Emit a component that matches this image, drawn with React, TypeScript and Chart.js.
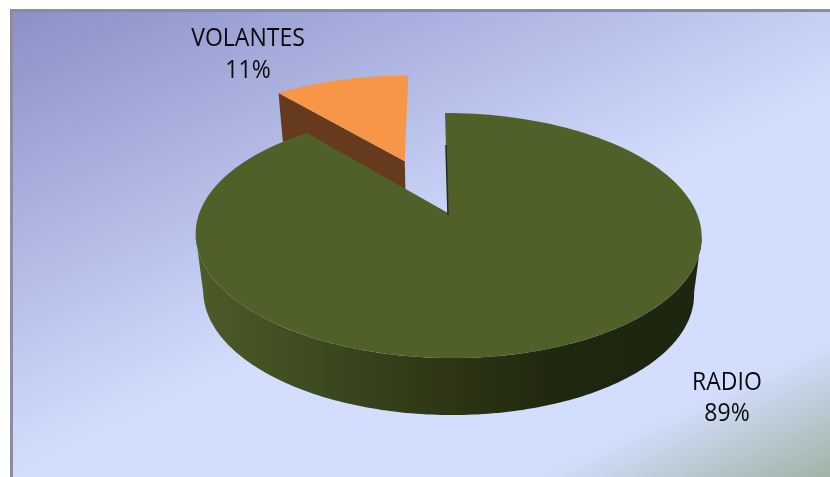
import React, { useEffect, useRef } from "react";
import { Chart, registerables } from "chart.js";

Chart.register(...registerables);

const categories = ["RADIO", "VOLANTES"];
const shares = [89, 11];
const sliceColors = ["#4f6128", "#f79646"];

const CX = 448;
const CY = 213;
const RX = 248.7;
const RY = 118.4;
const K = 0.1837;
const SHEAR = 0.03;
const EXPLODE = [0, 0.51];

type Pt = { x: number; y: number };

function project(u: number, v: number): Pt {
  const d = 1 - K * v;
  const yy = (RY * v) / d;
  return { x: CX + (RX * u) / d + SHEAR * yy, y: CY + yy };
}

function lower(p: Pt, depth: number, scale: number): Pt {
  return { x: 449 + (p.x - 449) * scale, y: p.y + depth };
}

function rim(startA: number, endA: number, dx: number, dy: number): Pt[] {
  const out: Pt[] = [];
  const n = 160;
  for (let i = 0; i <= n; i++) {
    const a = startA + ((endA - startA) * i) / n + Math.PI / 2;
    out.push(project(Math.sin(a) + dx, -Math.cos(a) + dy));
  }
  return out;
}

function fillPoly(ctx: CanvasRenderingContext2D, pts: Pt[], style: string | CanvasGradient) {
  ctx.beginPath();
  pts.forEach((p, i) => (i ? ctx.lineTo(p.x, p.y) : ctx.moveTo(p.x, p.y)));
  ctx.closePath();
  ctx.fillStyle = style;
  ctx.fill();
}

const scene = {
  id: "scene",
  beforeDraw(chart: any) {
    const ctx: CanvasRenderingContext2D = chart.ctx;
    ctx.save();
    ctx.fillStyle = "#ffffff";
    ctx.fillRect(0, 0, 830, 477);
    const g = ctx.createLinearGradient(10, 10, 333, 712);
    g.addColorStop(0, "#8b8fc6");
    g.addColorStop(0.55, "#d3defe");
    g.addColorStop(0.83, "#d3defe");
    g.addColorStop(1, "#9db2a2");
    ctx.fillStyle = g;
    ctx.fillRect(10, 9, 820, 468);
    ctx.fillStyle = "#8c8c9e";
    ctx.fillRect(10, 9, 820, 3);
    ctx.fillRect(10, 9, 3, 468);
    ctx.restore();
  },
  beforeDatasetsDraw(chart: any) {
    const ctx: CanvasRenderingContext2D = chart.ctx;
    const arcs = chart.getDatasetMeta(0).data;
    const main = arcs[0];
    const other = arcs[1];
    ctx.save();

    // exploded slice: cut face, then top
    const mid = (other.startAngle + other.endAngle) / 2 + Math.PI / 2 - 0.02;
    const dx = Math.sin(mid) * EXPLODE[1];
    const dy = -Math.cos(mid) * EXPLODE[1];
    const oRim = rim(other.startAngle, other.endAngle, dx, dy);
    const oApex = project(dx, dy);
    fillPoly(
      ctx,
      [oRim[0], oApex, lower(oApex, 48, 0.975), lower(oRim[0], 48, 0.975)],
      "#663a1c"
    );
    fillPoly(ctx, [oApex, ...oRim], sliceColors[1]);

    // large slice: wall, between the two widest points of the rim
    const wall = ctx.createLinearGradient(196, 0, 702, 0);
    wall.addColorStop(0, "#4c5c28");
    wall.addColorStop(0.48, "#2f3716");
    wall.addColorStop(0.72, "#20270f");
    wall.addColorStop(1, "#1e2510");
    const mRim = rim(main.startAngle, main.endAngle, 0, 0);
    const widest = Math.acos(-K);
    const front = rim(
      main.startAngle + widest,
      main.startAngle + 2 * Math.PI - widest,
      0,
      0
    );
    const bottom = front.map((p) => lower(p, 57, 0.97)).reverse();
    fillPoly(ctx, [...front, ...bottom], wall);

    const apex = project(0, 0);
    fillPoly(ctx, [apex, ...mRim], sliceColors[0]);

    // thin dark cut face along the vertical edge
    const t = mRim[0];
    ctx.strokeStyle = "#262e12";
    ctx.lineWidth = 1.5;
    ctx.beginPath();
    ctx.moveTo(t.x + (apex.x - t.x) * 0.32, t.y + (apex.y - t.y) * 0.32);
    ctx.lineTo(apex.x, apex.y + 2);
    ctx.stroke();

    ctx.restore();
    return false;
  },
  afterDraw(chart: any) {
    const ctx: CanvasRenderingContext2D = chart.ctx;
    const total = shares.reduce((s, v) => s + v, 0);
    const spots = [
      { x: 727, y: [390, 421] },
      { x: 248, y: [45.5, 78] },
    ];
    ctx.save();
    ctx.fillStyle = "#0a0a0a";
    ctx.textAlign = "center";
    ctx.textBaseline = "alphabetic";
    ctx.font = '26px "Open Sans"';
    const squeeze = 0.885;
    categories.forEach((c, i) => {
      const lines = [c, `${Math.round((shares[i] / total) * 100)}%`];
      lines.forEach((text, j) => {
        ctx.save();
        ctx.translate(spots[i].x, spots[i].y[j]);
        ctx.scale(squeeze, 1);
        ctx.fillText(text, 0, 0);
        ctx.restore();
      });
    });
    ctx.restore();
  },
};

export default function App() {
  const ref = useRef<HTMLCanvasElement>(null);
  useEffect(() => {
    const chart = new Chart(ref.current!, {
      type: "pie",
      data: {
        labels: categories,
        datasets: [{ data: shares, backgroundColor: sliceColors }],
      },
      options: {
        animation: false,
        responsive: false,
        rotation: 0,
        plugins: { legend: { display: false }, tooltip: { enabled: false } },
      },
      plugins: [scene],
    } as any);
    return () => chart.destroy();
  }, []);
  return (
    <div style={{ position: "fixed", left: 0, top: 0, width: 830, height: 477 }}>
      <canvas ref={ref} width={830} height={477} style={{ display: "block" }} />
    </div>
  );
}
